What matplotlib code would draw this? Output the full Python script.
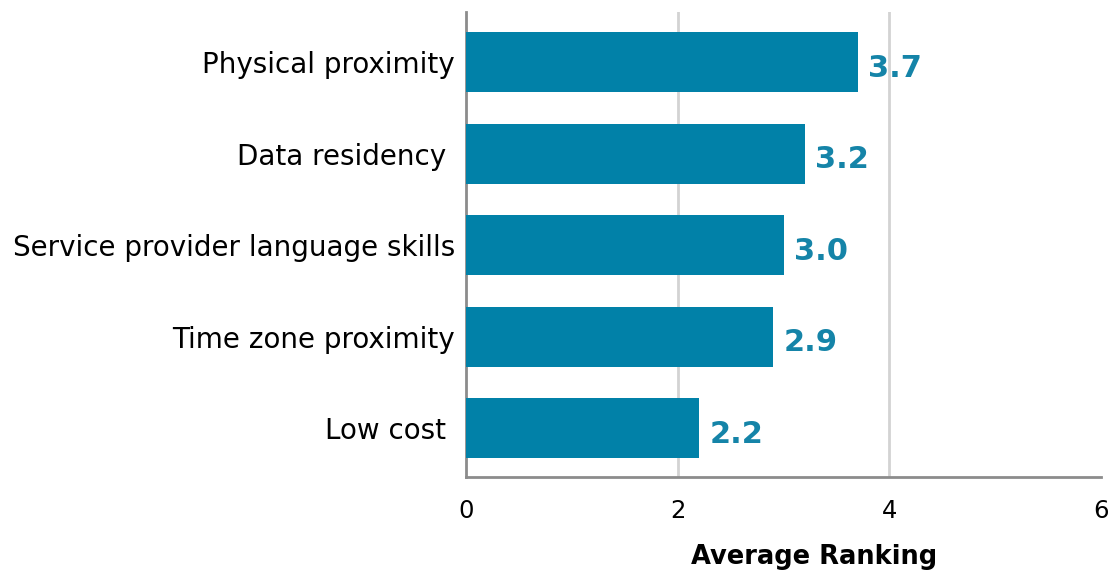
import matplotlib.pyplot as plt
import matplotlib.transforms as mtransforms

categories = ["Low cost ", "Time zone proximity", "Service provider language skills",
              "Data residency ", "Physical proximity"]
values = [2.2, 2.9, 3.0, 3.2, 3.7]
xticks = [0, 2, 4, 6]

bar_color = "#0181A8"
plt.rcParams["font.family"] = ["DejaVu Sans"]

fig = plt.figure(figsize=(11.09, 5.76), dpi=100)
ax = fig.add_axes([0.4202, 0.172, 0.5726, 0.807])

# nudge text a few pixels so it sits on the bar centres visually
down = mtransforms.ScaledTranslation(0, -6 / 100, fig.dpi_scale_trans)
left = mtransforms.ScaledTranslation(-3 / 100, 0, fig.dpi_scale_trans)

ypos = range(len(categories))
ax.barh(ypos, values, height=0.655, color=bar_color, zorder=3)

for y, v in zip(ypos, values):
    ax.text(v + 0.1, y, f"{v:.1f}", va="center", ha="left", fontsize=22,
            fontweight="bold", color="#1584A8", zorder=4,
            transform=ax.transData + down)

ax.set_xlim(0, 6)
ax.set_ylim(-0.53, 4.55)
ax.set_xticks(xticks)
ax.set_yticks(list(ypos))
ax.set_yticklabels(categories, fontsize=20)
for lbl in ax.get_yticklabels():
    lbl.set_transform(lbl.get_transform() + down)
for lbl in ax.get_xticklabels():
    lbl.set_transform(lbl.get_transform() + left)
ax.tick_params(axis="both", length=0)
ax.tick_params(axis="y", pad=8)
ax.tick_params(axis="x", labelsize=17.5, pad=16)

for x in xticks[1:-1]:
    ax.axvline(x, color="#D3D3D3", linewidth=2, zorder=0)
for s in ["top", "right"]:
    ax.spines[s].set_visible(False)
for s in ["left", "bottom"]:
    ax.spines[s].set_color("#8C8C8C")
    ax.spines[s].set_linewidth(2)

ax.set_xlabel("Average Ranking", fontsize=18.5, fontweight="bold")
ax.xaxis.set_label_coords(0.548, -0.145)

fig.savefig("out.png", dpi=100)
